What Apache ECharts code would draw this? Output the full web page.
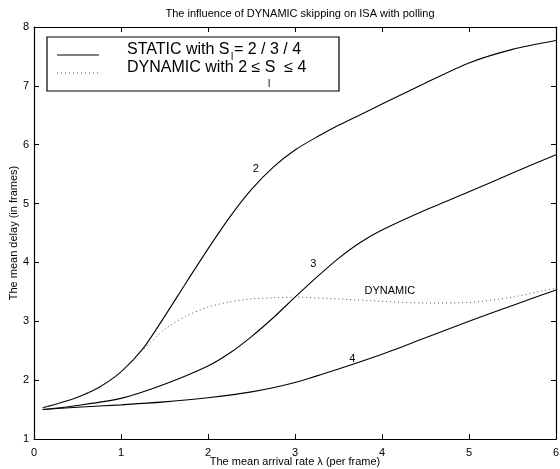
<!DOCTYPE html>
<html>
<head>
<meta charset="utf-8">
<script src="https://cdn.jsdelivr.net/npm/echarts@6/dist/echarts.min.js"></script>
<style>
  html, body { margin: 0; padding: 0; background: #fff; }
</style>
</head>
<body>
<!-- chart container, same size as the window -->
<div id="main" style="width:560px;height:469px"></div>
<script>
  // arrival rate values (x) and mean delays (y)
  var xStatic2 = [0.1, 0.25, 0.5, 0.75, 1.0, 1.25, 1.5, 1.75, 2.0, 2.25, 2.5, 2.75, 3.0, 3.25, 3.5, 3.75, 4.0, 4.5, 5.0, 5.5, 6.0];
  var yStatic2 = [1.53, 1.59, 1.71, 1.88, 2.14, 2.53, 3.08, 3.66, 4.23, 4.77, 5.24, 5.62, 5.91, 6.13, 6.33, 6.51, 6.69, 7.05, 7.39, 7.62, 7.77];

  var xStatic3 = [0.1, 0.5, 1.0, 1.5, 2.0, 2.25, 2.5, 2.75, 3.0, 3.25, 3.5, 3.75, 4.0, 4.5, 5.0, 5.5, 6.0];
  var yStatic3 = [1.50, 1.57, 1.69, 1.93, 2.24, 2.46, 2.74, 3.06, 3.41, 3.75, 4.07, 4.34, 4.55, 4.89, 5.20, 5.52, 5.83];

  var xStatic4 = [0.1, 0.5, 1.0, 1.5, 2.0, 2.5, 3.0, 3.5, 4.0, 4.5, 5.0, 5.5, 6.0];
  var yStatic4 = [1.50, 1.54, 1.58, 1.63, 1.70, 1.80, 1.96, 2.19, 2.44, 2.72, 3.00, 3.27, 3.53];

  var xDynamic = [0.1, 0.25, 0.5, 0.75, 1.0, 1.25, 1.5, 1.75, 2.0, 2.25, 2.5, 2.75, 3.0, 3.5, 4.0, 4.5, 5.0, 5.5, 6.0];
  var yDynamic = [1.53, 1.59, 1.71, 1.88, 2.14, 2.51, 2.86, 3.09, 3.24, 3.33, 3.38, 3.40, 3.41, 3.38, 3.34, 3.31, 3.32, 3.41, 3.57];

  // tick labels
  var xTicks = ['0', '1', '2', '3', '4', '5', '6'];
  var yTicks = ['1', '2', '3', '4', '5', '6', '7', '8'];

  // curve labels: [text, x, y]
  var curveLabels = [
    ['2', 2.55, 5.59],
    ['3', 3.21, 3.97],
    ['DYNAMIC', 4.09, 3.51],
    ['4', 3.66, 2.36]
  ];

  function pairs(xs, ys) {
    return xs.map(function (x, i) { return [x, ys[i]]; });
  }

  var font = 'Liberation Sans, Arial, sans-serif';

  var myChart = echarts.init(document.getElementById('main'));

  var axisCommon = {
    type: 'value',
    nameMoveOverlap: false,
    axisLine: { show: true, onZero: false, lineStyle: { color: '#000', width: 1.2 } },
    axisTick: { show: true, inside: true, length: 5, lineStyle: { color: '#000' } },
    splitLine: { show: false }
  };

  myChart.setOption({
    backgroundColor: '#fff',
    animation: false,
    title: {
      text: 'The influence of DYNAMIC skipping on ISA with polling',
      left: 295, top: 3, textAlign: 'center',
      textStyle: { fontFamily: font, fontSize: 11, fontWeight: 'normal', color: '#000' }
    },
    grid: { left: 34, right: 4, top: 27, bottom: 30, outerBoundsMode: 'none', containLabel: false },
    xAxis: [
      Object.assign({}, axisCommon, {
        min: 0, max: 6, interval: 1, position: 'bottom',
        name: 'The mean arrival rate λ (per frame)',
        nameLocation: 'middle', nameGap: 17,
        nameTextStyle: { fontFamily: font, fontSize: 11, color: '#000' },
        axisLabel: {
          fontFamily: font, fontSize: 11, color: '#000', margin: 8,
          formatter: function (v) { return xTicks[Math.round(v)]; }
        }
      }),
      Object.assign({}, axisCommon, {
        min: 0, max: 6, interval: 1, position: 'top',
        axisLabel: { show: false }
      })
    ],
    yAxis: [
      Object.assign({}, axisCommon, {
        min: 1, max: 8, interval: 1, position: 'left',
        name: 'The mean delay (in frames)',
        nameLocation: 'middle', nameGap: 15, nameRotate: 90,
        nameTextStyle: { fontFamily: font, fontSize: 11, color: '#000' },
        axisLabel: {
          fontFamily: font, fontSize: 11, color: '#000', margin: 5,
          formatter: function (v) { return yTicks[Math.round(v) - 1]; }
        }
      }),
      Object.assign({}, axisCommon, {
        min: 1, max: 8, interval: 1, position: 'right',
        axisLabel: { show: false }
      })
    ],
    series: [
      {
        name: 'STATIC 2', type: 'line', smooth: 0.25, symbol: 'none',
        lineStyle: { color: '#000', width: 1.1 },
        data: pairs(xStatic2, yStatic2),
        markPoint: {
          symbolSize: 0, silent: true,
          label: { show: true, position: 'inside', fontFamily: font, fontSize: 11, color: '#000',
                   formatter: function (p) { return p.name; } },
          data: curveLabels.map(function (c) { return { name: c[0], coord: [c[1], c[2]] }; })
        }
      },
      {
        name: 'STATIC 3', type: 'line', smooth: 0.25, symbol: 'none',
        lineStyle: { color: '#000', width: 1.1 },
        data: pairs(xStatic3, yStatic3)
      },
      {
        name: 'STATIC 4', type: 'line', smooth: 0.25, symbol: 'none',
        lineStyle: { color: '#000', width: 1.1 },
        data: pairs(xStatic4, yStatic4)
      },
      {
        name: 'DYNAMIC', type: 'line', smooth: 0.25, symbol: 'none',
        lineStyle: { color: '#555', width: 1, type: [1, 3] },
        data: pairs(xDynamic, yDynamic)
      }
    ],
    // legend box drawn by hand (MATLAB style)
    graphic: [
      { type: 'rect', shape: { x: 47, y: 37, width: 292, height: 54 },
        style: { fill: '#fff', stroke: '#000', lineWidth: 1.2 }, z: 100 },
      { type: 'line', shape: { x1: 57, y1: 55, x2: 99, y2: 55 },
        style: { stroke: '#000', lineWidth: 1.1 }, z: 101 },
      { type: 'line', shape: { x1: 57, y1: 73, x2: 99, y2: 73 },
        style: { stroke: '#555', lineWidth: 1, lineDash: [1, 3] }, z: 101 },
      { type: 'text', left: 127, top: 42, z: 101,
        style: { text: 'STATIC with S = 2 / 3 / 4', font: '16px ' + font, fill: '#000' } },
      { type: 'text', left: 231, top: 52, z: 101,
        style: { text: 'l', font: '10px ' + font, fill: '#000' } },
      { type: 'text', left: 127, top: 60, z: 101,
        style: { text: 'DYNAMIC with 2 ≤ S  ≤ 4', font: '16px ' + font, fill: '#000' } },
      { type: 'text', left: 268, top: 79, z: 101,
        style: { text: 'l', font: '10px ' + font, fill: '#000' } }
    ]
  });
</script>
</body>
</html>
